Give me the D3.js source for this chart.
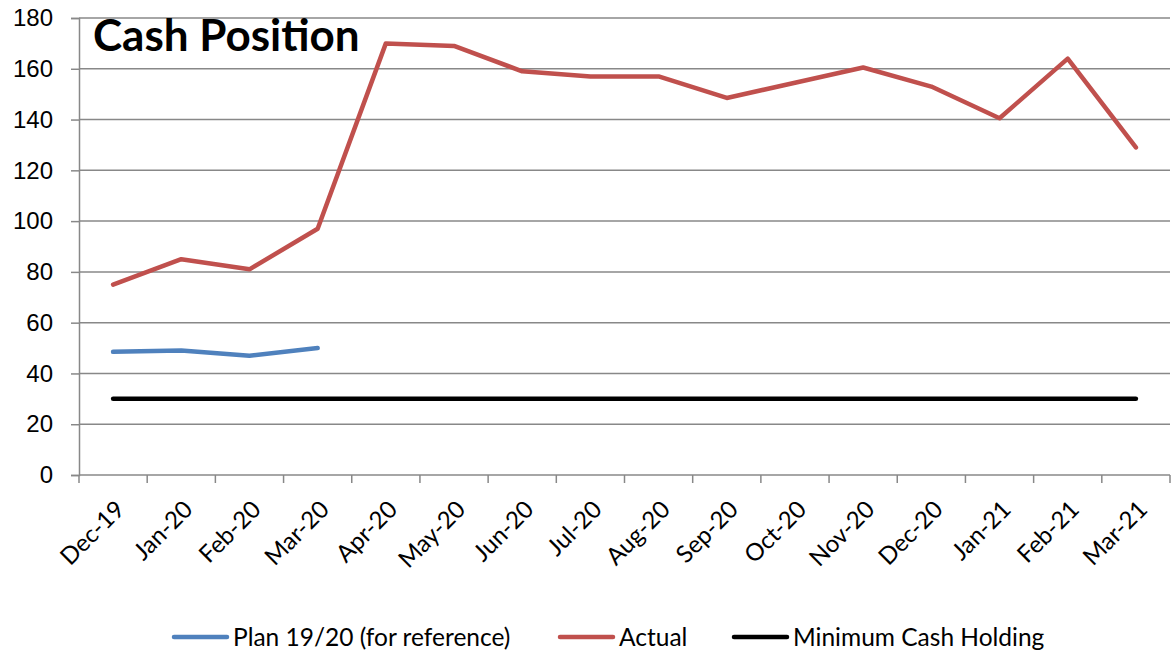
<!DOCTYPE html>
<html>
<head>
<meta charset="utf-8">
<script src="https://cdn.jsdelivr.net/npm/d3@7"></script>
<style>
  body { margin: 0; background: #fff; }
  svg { font-family: Lato, "Open Sans", sans-serif; }
</style>
</head>
<body>
<div id="chart"></div>
<script>
const months = ['Dec-19', 'Jan-20', 'Feb-20', 'Mar-20', 'Apr-20', 'May-20', 'Jun-20', 'Jul-20',
    'Aug-20', 'Sep-20', 'Oct-20', 'Nov-20', 'Dec-20', 'Jan-21', 'Feb-21', 'Mar-21'];
const planValues = [48.5, 49, 47, 50];
const actualValues = [75, 85, 81, 97, 170, 169, 159, 157, 157, 148.5, 154.5, 160.5, 153, 140.5, 164, 129];
const minimumValues = [30, 30, 30, 30, 30, 30, 30, 30, 30, 30, 30, 30, 30, 30, 30, 30];
const yTicks = [0, 20, 40, 60, 80, 100, 120, 140, 160, 180];

const seriesList = [
    { name: 'Plan 19/20 (for reference)', values: planValues, color: '#4F81BD' },
    { name: 'Actual', values: actualValues, color: '#C0504D' },
    { name: 'Minimum Cash Holding', values: minimumValues, color: '#000000' }
];

function createCashChart() {
    const totalWidth = 1172, totalHeight = 652;
    const margin = { top: 18, right: 2, bottom: 177, left: 79 };
    const width = totalWidth - margin.left - margin.right;
    const height = totalHeight - margin.top - margin.bottom;

    const svg = d3.select('#chart').append('svg')
        .attr('width', totalWidth)
        .attr('height', totalHeight);

    const g = svg.append('g')
        .attr('transform', `translate(${margin.left},${margin.top})`);

    const xScale = d3.scaleBand().domain(months).range([0, width]);
    const yScale = d3.scaleLinear().domain([0, 180]).range([height, 0]);

    // Gridlines
    g.append('g')
        .selectAll('line')
        .data(yTicks.slice(1))
        .join('line')
        .attr('x1', 0)
        .attr('x2', width)
        .attr('y1', d => yScale(d))
        .attr('y2', d => yScale(d))
        .attr('stroke', '#888')
        .attr('stroke-width', 1.5);

    // Y axis
    const yAxis = g.append('g')
        .call(d3.axisLeft(yScale).tickValues(yTicks).tickSize(8).tickPadding(18));
    yAxis.select('.domain').attr('stroke', '#888').attr('stroke-width', 1.5);
    yAxis.selectAll('.tick line').attr('stroke', '#888').attr('stroke-width', 1.5);
    yAxis.selectAll('.tick text')
        .attr('font-size', 24)
        .attr('fill', '#000');

    // X axis: ticks between categories
    const xAxis = g.append('g').attr('transform', `translate(0,${height})`);
    xAxis.append('line')
        .attr('x1', 0).attr('x2', width)
        .attr('stroke', '#888').attr('stroke-width', 1.5);
    const boundaries = months.map(m => xScale(m)).concat([width]);
    xAxis.selectAll('.xtick')
        .data(boundaries)
        .join('line')
        .attr('class', 'xtick')
        .attr('x1', d => d).attr('x2', d => d)
        .attr('y1', 0).attr('y2', 8)
        .attr('stroke', '#888').attr('stroke-width', 1.5);
    xAxis.selectAll('.xlabel')
        .data(months)
        .join('text')
        .attr('class', 'xlabel')
        .attr('transform', d => `translate(${xScale(d) + xScale.bandwidth() / 2 + 1},${24}) rotate(-45)`)
        .attr('text-anchor', 'end')
        .attr('dy', '0.7em')
        .attr('font-size', 24)
        .text(d => d);

    // Lines
    const line = d3.line()
        .x((d, i) => xScale(months[i]) + xScale.bandwidth() / 2)
        .y(d => yScale(d));

    g.selectAll('.series')
        .data(seriesList)
        .join('path')
        .attr('class', 'series')
        .attr('d', d => line(d.values))
        .attr('fill', 'none')
        .attr('stroke', d => d.color)
        .attr('stroke-width', 4.5)
        .attr('stroke-linejoin', 'round')
        .attr('stroke-linecap', 'round');

    // Title
    svg.append('text')
        .attr('x', 93)
        .attr('y', 51)
        .attr('font-size', 44)
        .attr('font-weight', 'bold')
        .text('Cash Position');

    // Legend
    const legendX = [174, 560, 734];
    const legend = svg.append('g');
    const items = legend.selectAll('g')
        .data(seriesList)
        .join('g')
        .attr('transform', (d, i) => `translate(${legendX[i]},637)`);
    items.append('line')
        .attr('x1', 0).attr('x2', 53)
        .attr('stroke', d => d.color)
        .attr('stroke-width', 4.5)
        .attr('stroke-linecap', 'round');
    items.append('text')
        .attr('x', 59)
        .attr('dy', '0.35em')
        .attr('font-size', 24.5)
        .text(d => d.name);
}

createCashChart();
</script>
</body>
</html>
